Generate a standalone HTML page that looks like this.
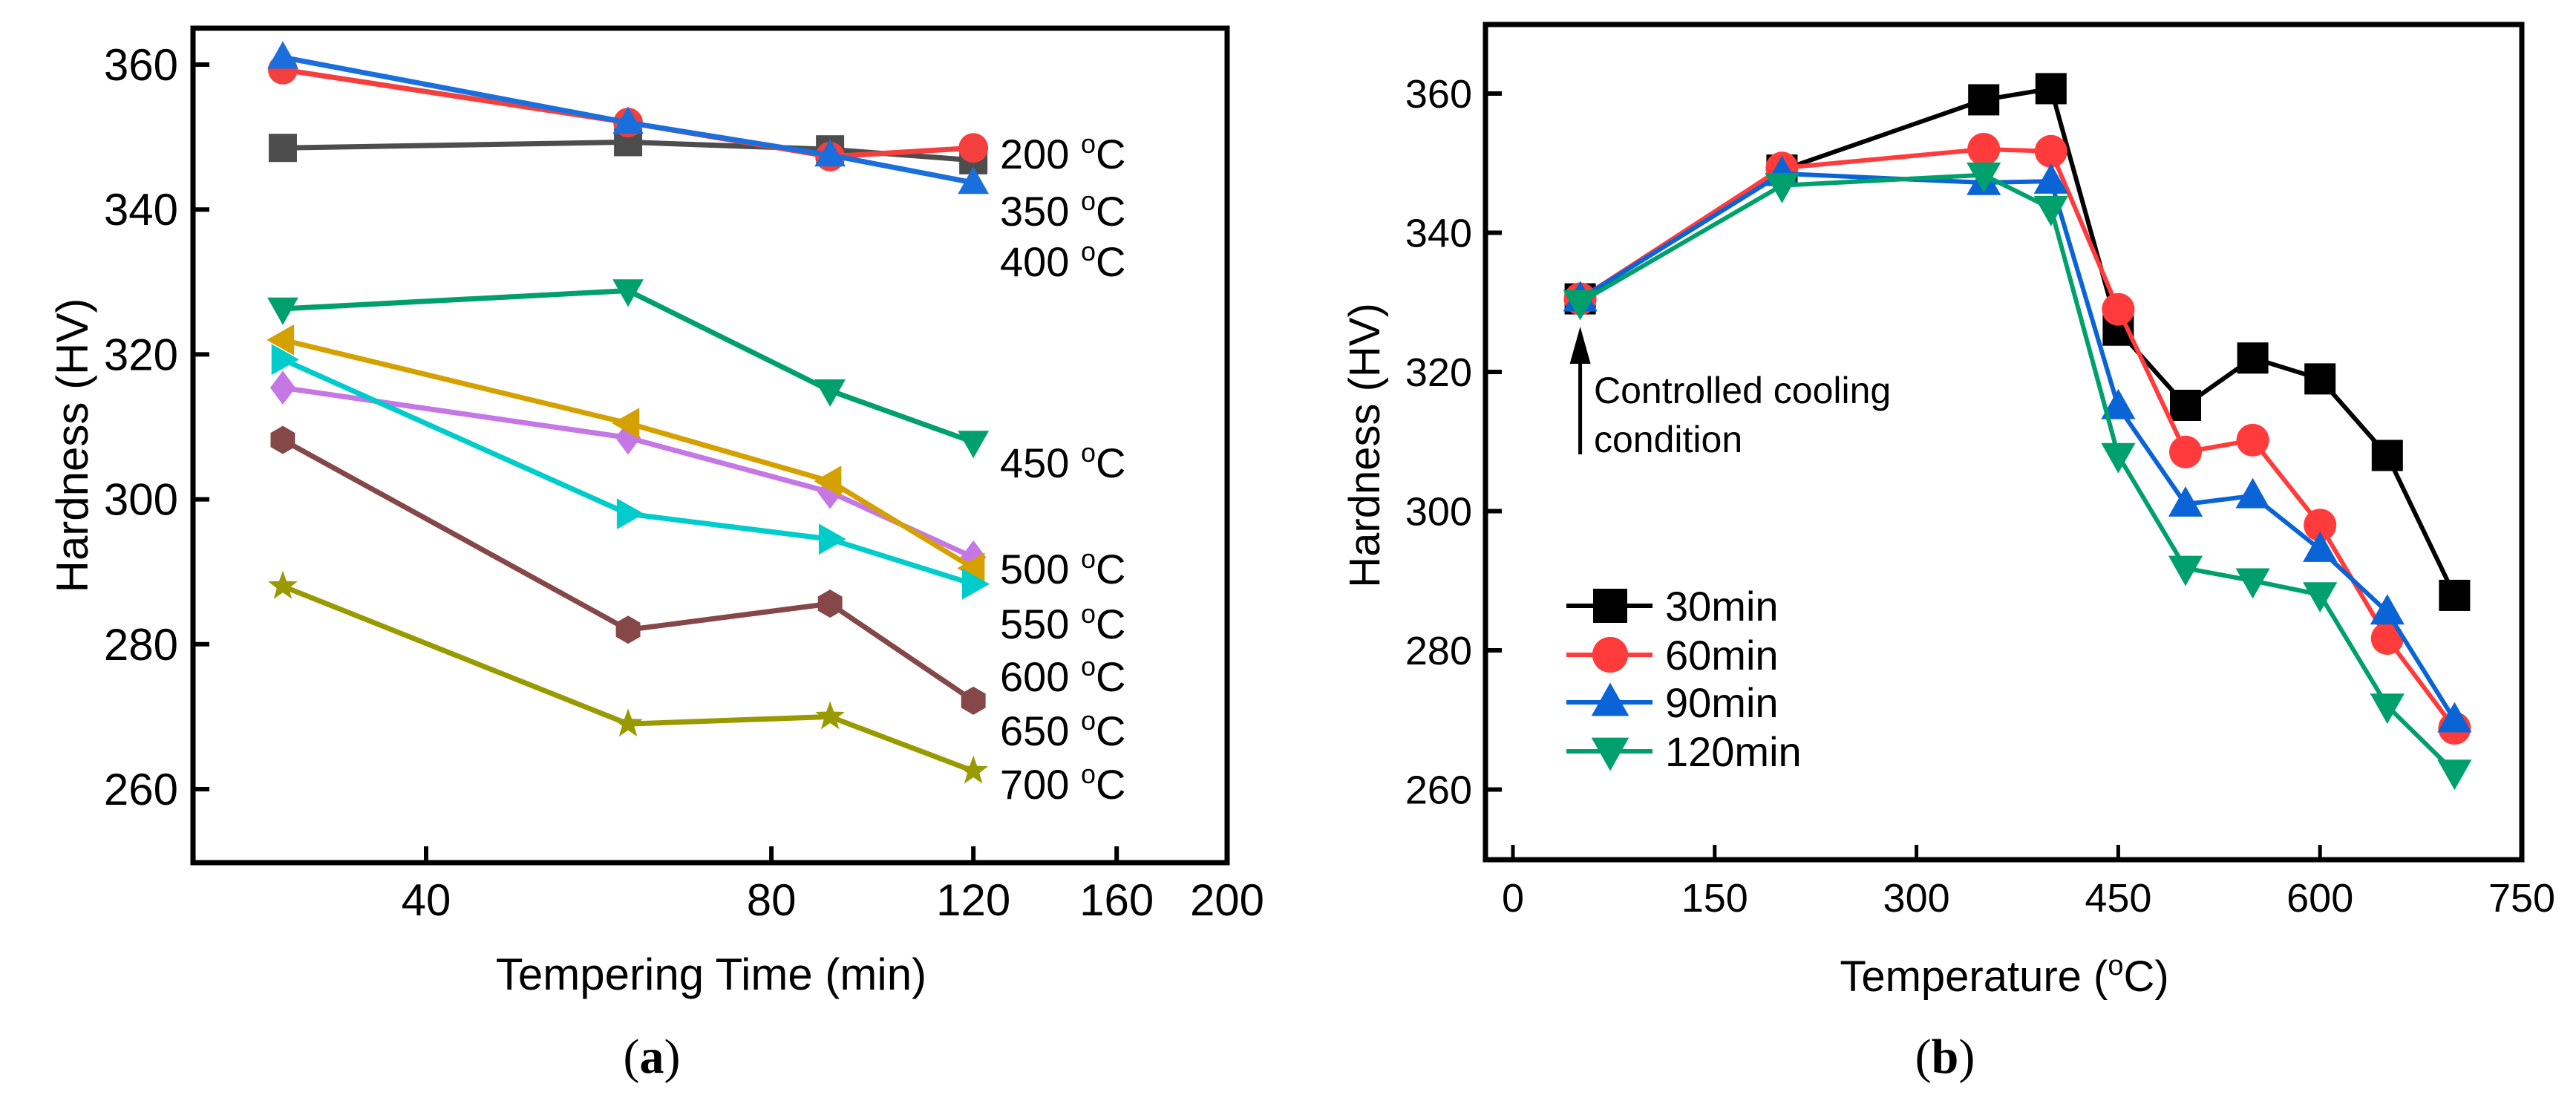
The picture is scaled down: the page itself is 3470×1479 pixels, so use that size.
<!DOCTYPE html>
<html><head><meta charset="utf-8"><style>
html,body{margin:0;padding:0;background:#fff;}
svg{display:block;font-family:"Liberation Sans",sans-serif;}
</style></head>
<body>
<svg id="fig" width="3470" height="1479" viewBox="0 0 3470 1479" xmlns="http://www.w3.org/2000/svg">
<rect width="3470" height="1479" fill="#fff"/>
<g id="pa"></g>
<g id="pb"></g>
</svg>
<script>
// ---- Panel (a) data ----
const timesA = [30, 60, 90, 120];
const tickA = [40, 80, 120, 160, 200];
const yTicks = [260, 280, 300, 320, 340, 360];
const a200 = [348.5, 349.3, 348.3, 346.8];
const a350 = [359.3, 352, 347.3, 348.5];
const a400 = [361, 352, 347.5, 343.7];
const a450 = [326.3, 328.8, 315, 307.9];
const a500 = [322, 310.5, 302.5, 290.5];
const a550 = [319.3, 298, 294.5, 288.3];
const a600 = [315.4, 308.5, 301, 292];
const a650 = [308.2, 282, 285.6, 272.2];
const a700 = [288, 269, 270, 262.5];
const labelsA = ["200", "350", "400", "450", "500", "550", "600", "650", "700"];
const labelYA = [207, 284, 352, 623, 766, 840, 911, 984, 1056];
// ---- Panel (b) data ----
const tempsB = [50, 200, 350, 400, 450, 500, 550, 600, 650, 700];
const tickB = [0, 150, 300, 450, 600, 750];
const b30 = [330.5, 349, 359.1, 360.7, 326, 315.2, 322, 319, 308, 287.9];
const b60 = [330.5, 349.3, 352, 351.7, 329, 308.5, 310.2, 298, 281.7, 268.8];
const b90 = [330.5, 348.5, 347.2, 347.4, 315, 301, 302.2, 294.5, 285.5, 270];
const b120 = [330, 346.8, 348.3, 343.5, 308, 291.8, 290, 288, 272, 262.5];
const legendB = ["30min", "60min", "90min", "120min"];

const NS = "http://www.w3.org/2000/svg";
function mk(tag, attrs, parent) {
  const e = document.createElementNS(NS, tag);
  for (const k in attrs) e.setAttribute(k, attrs[k]);
  parent.appendChild(e);
  return e;
}
function marker(g, type, x, y, s, color) {
  let e;
  const r = s / 2;
  if (type === "square") e = mk("rect", {x: x - r, y: y - r, width: s, height: s, fill: color}, g);
  else if (type === "circle") e = mk("circle", {cx: x, cy: y, r: r * 1.05, fill: color}, g);
  else {
    let pts = [];
    if (type === "up") pts = [[0, -r * 1.15], [r * 1.1, r * 0.8], [-r * 1.1, r * 0.8]];
    else if (type === "down") pts = [[0, r * 1.15], [r * 1.1, -r * 0.8], [-r * 1.1, -r * 0.8]];
    else if (type === "left") pts = [[-r * 1.15, 0], [r * 0.8, r * 1.1], [r * 0.8, -r * 1.1]];
    else if (type === "right") pts = [[r * 1.15, 0], [-r * 0.8, r * 1.1], [-r * 0.8, -r * 1.1]];
    else if (type === "diamond") pts = [[0, -r * 1.2], [r * 0.9, 0], [0, r * 1.2], [-r * 0.9, 0]];
    else if (type === "hex") { for (let i = 0; i < 6; i++) { const a = Math.PI / 6 + i * Math.PI / 3; pts.push([r * Math.cos(a), r * Math.sin(a)]); } }
    else if (type === "star") { for (let i = 0; i < 10; i++) { const a = -Math.PI / 2 + i * Math.PI / 5; const rr = i % 2 ? r * 0.45 : r * 1.1; pts.push([rr * Math.cos(a), rr * Math.sin(a)]); } }
    e = mk("polygon", {points: pts.map(p => (x + p[0]) + "," + (y + p[1])).join(" "), fill: color}, g);
  }
  return e;
}

// ===== Panel A =====
(function () {
  const g = document.getElementById("pa");
  const L = 260, R = 1653, T = 38, B = 1162;
  const xA = t => 574 + 671 * Math.log(t / 40);
  const yA = v => 87 + (360 - v) * 9.76;
  const series = [
    [a200, "#4d4d4d", "square", "series-200c"],
    [a350, "#f43f3f", "circle", "series-350c"],
    [a400, "#1a6fdc", "up", "series-400c"],
    [a450, "#00a06c", "down", "series-450c"],
    [a600, "#c677e6", "diamond", "series-600c"],
    [a500, "#d4a100", "left", "series-500c"],
    [a550, "#00cccc", "right", "series-550c"],
    [a650, "#854747", "hex", "series-650c"],
    [a700, "#999900", "star", "series-700c"]
  ];
  for (const [vals, col, mt, nm] of series) {
    const sg = mk("g", {}, g);
    
    
    const pl = mk("polyline", {points: vals.map((v, i) => xA(timesA[i]) + "," + yA(v)).join(" "), fill: "none", stroke: col, "stroke-width": 7, "stroke-linejoin": "round"}, sg);
    
    
    vals.forEach((v, i) => {
      const m = marker(sg, mt, xA(timesA[i]), yA(v), 38, col);
      
      
    });
  }
  const frame = mk("rect", {x: L, y: T, width: R - L, height: B - T, fill: "none", stroke: "#000", "stroke-width": 7}, g);
  
  
  yTicks.forEach(v => {
    mk("line", {x1: L, x2: L + 22, y1: yA(v), y2: yA(v), stroke: "#000", "stroke-width": 6}, g);
    const t = mk("text", {x: L - 20, y: yA(v) + 21, "font-size": 60, "text-anchor": "end"}, g);
    t.textContent = v;
    
    
  });
  tickA.forEach(v => {
    if (v < 200) mk("line", {x1: xA(v), x2: xA(v), y1: B, y2: B - 22, stroke: "#000", "stroke-width": 6}, g);
    const t = mk("text", {x: Math.min(xA(v), 1653), y: 1233, "font-size": 60, "text-anchor": "middle"}, g);
    t.textContent = v;
    
    
  });
  labelsA.forEach((s, i) => {
    const t = mk("text", {x: 1347, y: labelYA[i] + 20, "font-size": 56}, g);
    t.innerHTML = s + ' <tspan font-size="36" dy="-21">o</tspan><tspan dy="21">C</tspan>';
    
    
  });
  const xt = mk("text", {x: 958, y: 1333, "font-size": 60, "text-anchor": "middle"}, g);
  xt.textContent = "Tempering Time (min)";
  
  
  const yt = mk("text", {x: 0, y: 0, "font-size": 60, "text-anchor": "middle", transform: "translate(118,600) rotate(-90)"}, g);
  yt.textContent = "Hardness (HV)";
  
  
  const cap = mk("text", {x: 878, y: 1445, "font-size": 66, "text-anchor": "middle", "font-family": "Liberation Serif, serif"}, g);
  cap.innerHTML = '(<tspan font-weight="bold">a</tspan>)';
  
  
})();

// ===== Panel B =====
(function () {
  const g = document.getElementById("pb");
  const L = 2001, R = 3397, T = 33, B = 1158;
  const xB = t => 2038 + t * (1359 / 750);
  const yB = v => 126 + (360 - v) * 9.375;
  const series = [
    [b30, "#000000", "square", "series-30min"],
    [b60, "#ff3b3b", "circle", "series-60min"],
    [b90, "#0a64d6", "up", "series-90min"],
    [b120, "#00a06c", "down", "series-120min"]
  ];
  series.forEach(([vals, col, mt, nm], si) => {
    const sg = mk("g", {}, g);
    
    
    const pl = mk("polyline", {points: vals.map((v, i) => xB(tempsB[i]) + "," + yB(v)).join(" "), fill: "none", stroke: col, "stroke-width": 6, "stroke-linejoin": "round"}, sg);
    
    
    vals.forEach((v, i) => {
      const m = marker(sg, mt, xB(tempsB[i]), yB(v), 42, col);
      
      
    });
    const ly = [816, 882, 946, 1012][si];
    const lg = mk("g", {}, g);
    
    
    mk("line", {x1: 2110, x2: 2226, y1: ly, y2: ly, stroke: col, "stroke-width": 6}, lg);
    marker(lg, mt, 2169, ly, 46, col);
    const t = mk("text", {x: 2243, y: ly + 20, "font-size": 56}, lg);
    t.textContent = legendB[si];
  });
  const frame = mk("rect", {x: L, y: T, width: R - L, height: B - T, fill: "none", stroke: "#000", "stroke-width": 7}, g);
  
  
  yTicks.forEach(v => {
    mk("line", {x1: L, x2: L + 22, y1: yB(v), y2: yB(v), stroke: "#000", "stroke-width": 6}, g);
    const t = mk("text", {x: L - 18, y: yB(v) + 19, "font-size": 54, "text-anchor": "end"}, g);
    t.textContent = v;
    
    
  });
  tickB.forEach(v => {
    if (v < 750) mk("line", {x1: xB(v), x2: xB(v), y1: B, y2: B - 20, stroke: "#000", "stroke-width": 5}, g);
    const t = mk("text", {x: xB(v), y: 1228, "font-size": 54, "text-anchor": "middle"}, g);
    t.textContent = v;
    
    
  });
  const ax = xB(tempsB[0]);
  const ar = mk("g", {}, g);
  
  
  mk("line", {x1: ax, x2: ax, y1: 612, y2: 480, stroke: "#000", "stroke-width": 5}, ar);
  mk("polygon", {points: `${ax},440 ${ax - 14},490 ${ax + 14},490`, fill: "#000"}, ar);
  const an = mk("text", {x: 2147, y: 543, "font-size": 50}, g);
  an.innerHTML = 'Controlled cooling<tspan x="2147" dy="66">condition</tspan>';
  
  
  const xt = mk("text", {x: 2700, y: 1335, "font-size": 58, "text-anchor": "middle"}, g);
  xt.innerHTML = 'Temperature (<tspan font-size="38" dy="-22">o</tspan><tspan dy="22">C)</tspan>';
  
  
  const yt = mk("text", {x: 0, y: 0, "font-size": 58, "text-anchor": "middle", transform: "translate(1858,600) rotate(-90)"}, g);
  yt.textContent = "Hardness (HV)";
  
  
  const cap = mk("text", {x: 2620, y: 1445, "font-size": 66, "text-anchor": "middle", "font-family": "Liberation Serif, serif"}, g);
  cap.innerHTML = '(<tspan font-weight="bold">b</tspan>)';
  
  
})();
</script>
</body></html>
